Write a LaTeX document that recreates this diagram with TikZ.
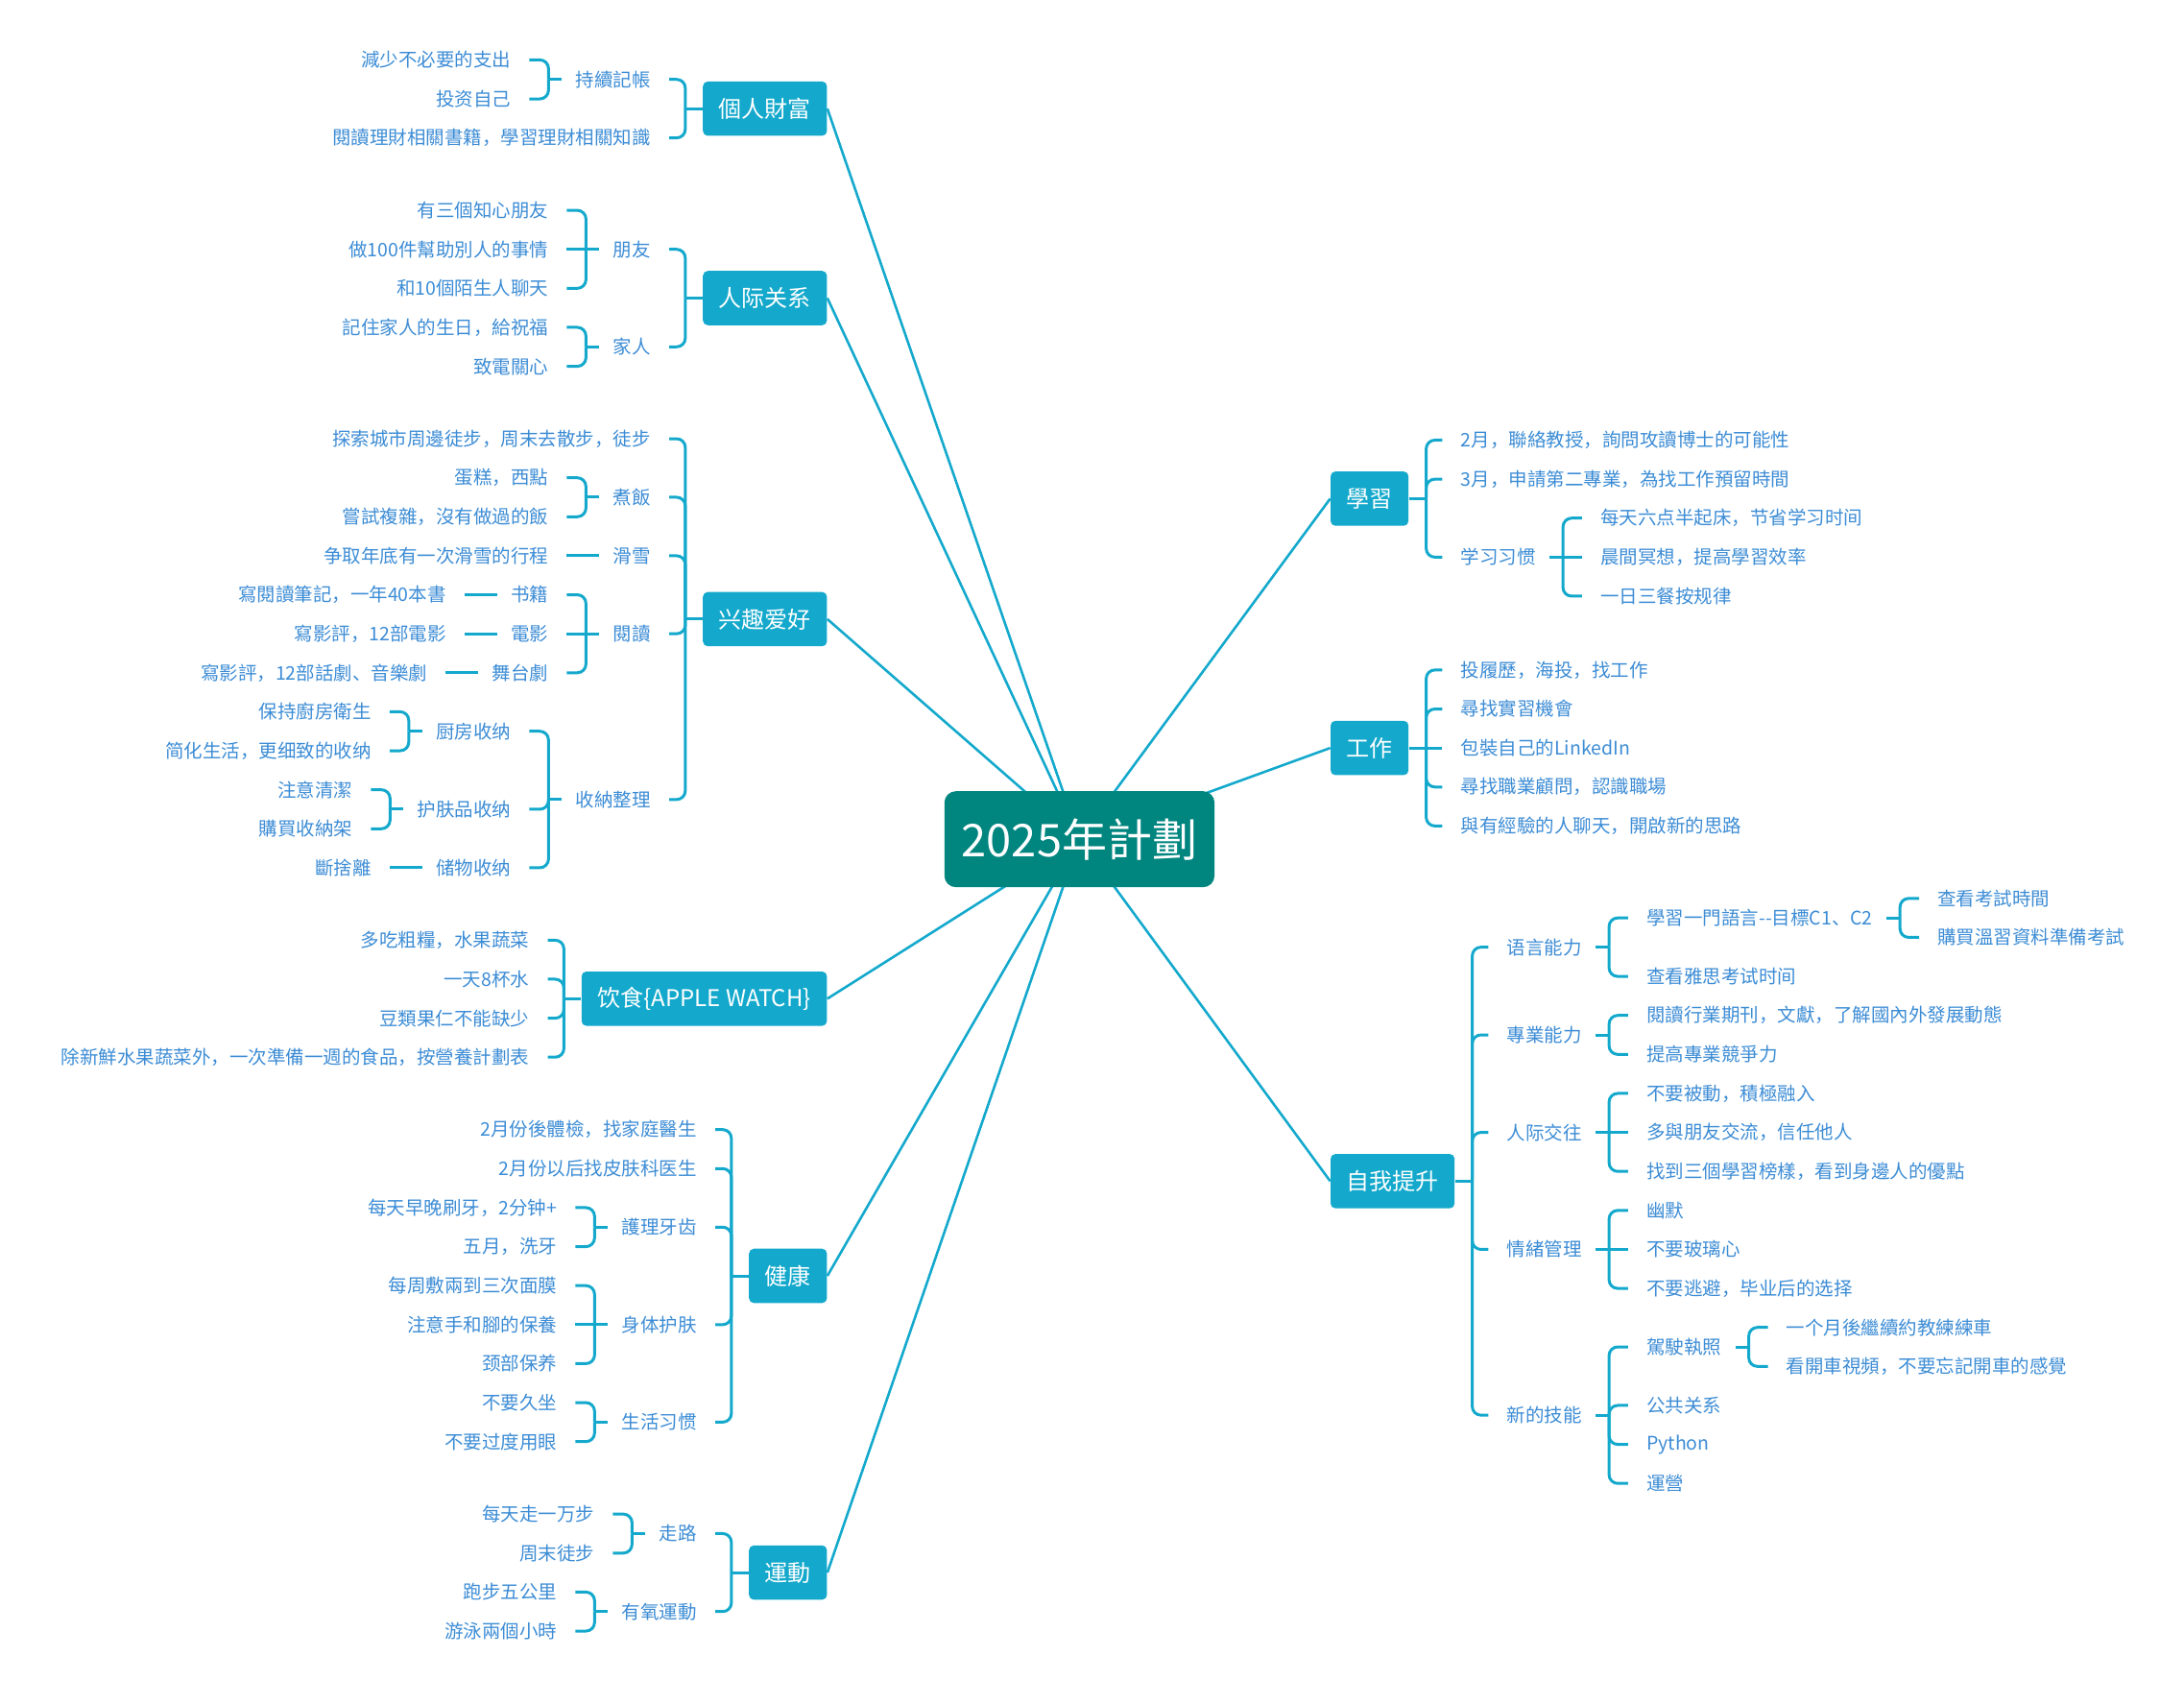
\documentclass[tikz,border=0pt]{standalone}
\usepackage{fontspec}
\setmainfont{Noto Sans CJK SC}
\usetikzlibrary{calc}
\definecolor{boxblue}{RGB}{20,169,204}
\definecolor{lnblue}{RGB}{20,169,204}
\definecolor{txtblue}{RGB}{60,140,213}
\definecolor{rootteal}{RGB}{0,133,127}
\pgfdeclarelayer{bg}
\pgfsetlayers{bg,main}
\tikzset{
  conn/.style={line width=1.5pt, draw=lnblue},
  mainconn/.style={line width=1.3pt, draw=lnblue},
  leaf/.style={inner sep=0pt, text=txtblue, font=\fontsize{9.75}{11}\selectfont},
  mainbox/.style={fill=boxblue, text=white, font=\fontsize{12}{14}\selectfont, minimum height=28.3pt, inner xsep=8.3pt, inner ysep=0pt, rounded corners=2.5pt},
  rootbox/.style={fill=rootteal, text=white, font=\fontsize{23.5}{26}\selectfont, minimum width=140.7pt, minimum height=50pt, rounded corners=6pt}
}
% left child: name, parent, offset, y, text
\newcommand\KL[5]{\coordinate (tmpy) at (0,#4); \path (#2.west) ++(-#3,0) coordinate (tmpk); \node[leaf,anchor=east] (#1) at (tmpk |- tmpy) {#5};}
\newcommand\KR[5]{\coordinate (tmpy) at (0,#4); \path (#2.east) ++(#3,0) coordinate (tmpk); \node[leaf,anchor=west] (#1) at (tmpk |- tmpy) {#5};}
% brackets: parent, stub start, bar, curved kids
\newcommand\BL[4]{\draw[conn] ($(#1.west)+(-#2,0)$) -- ($(#1.west)+(-#3,0)$) coordinate (barpt);
  \foreach \kid in {#4}{\draw[conn,rounded corners=4.5pt] (barpt) |- ($(\kid.east)+(13,0)$);}}
\newcommand\BR[4]{\draw[conn] ($(#1.east)+(#2,0)$) -- ($(#1.east)+(#3,0)$) coordinate (barpt);
  \foreach \kid in {#4}{\draw[conn,rounded corners=4.5pt] (barpt) |- ($(\kid.west)+(-13,0)$);}}
\newcommand\StL[2]{\draw[conn] ($(#1.west)+(-9.6,0)$) -- ($(#2.east)+(13,0)$);}
\newcommand\StR[2]{\draw[conn] ($(#1.east)+(9.6,0)$) -- ($(#2.west)+(-13,0)$);}

\begin{document}
\begin{tikzpicture}[x=0.72545pt,y=-0.72545pt]
\useasboundingbox (0,0) rectangle (1568,1223);

\node[rootbox] (root) at (775,602.5) {2025年計劃};

% ---------- 個人財富
\node[mainbox,anchor=east] (A) at (594,78) {個人財富};
\KL{A1}{A}{37}{57}{持續記帳}
\KL{A2}{A}{37}{99}{閱讀理財相關書籍，學習理財相關知識}
\KL{A11}{A1}{46}{43}{減少不必要的支出}
\KL{A12}{A1}{46}{71}{投资自己}
\BL{A}{0}{12.4}{A1,A2}
\BL{A1}{9.6}{19.3}{A11,A12}

% ---------- 人际关系
\node[mainbox,anchor=east] (B) at (594,214) {人际关系};
\KL{B1}{B}{37}{179}{朋友}
\KL{B2}{B}{37}{249}{家人}
\KL{B11}{B1}{46}{151}{有三個知心朋友}
\KL{B12}{B1}{46}{179}{做100件幫助別人的事情}
\KL{B13}{B1}{46}{207}{和10個陌生人聊天}
\KL{B21}{B2}{46}{235}{記住家人的生日，給祝福}
\KL{B22}{B2}{46}{263}{致電關心}
\BL{B}{0}{12.4}{B1,B2}
\BL{B1}{9.6}{19.3}{B11,B13}
\StL{B1}{B12}
\BL{B2}{9.6}{19.3}{B21,B22}

% ---------- 兴趣爱好
\node[mainbox,anchor=east] (C) at (594,444.5) {兴趣爱好};
\KL{C1}{C}{37}{315}{探索城市周邊徒步，周末去散步，徒步}
\KL{C2}{C}{37}{357}{煮飯}
\KL{C3}{C}{37}{399}{滑雪}
\KL{C4}{C}{37}{455}{閱讀}
\KL{C5}{C}{37}{574}{收納整理}
\KL{C21}{C2}{46}{343}{蛋糕，西點}
\KL{C22}{C2}{46}{371}{嘗試複雜，沒有做過的飯}
\KL{C31}{C3}{46}{399}{争取年底有一次滑雪的行程}
\KL{C41}{C4}{46}{427}{书籍}
\KL{C42}{C4}{46}{455}{電影}
\KL{C43}{C4}{46}{483}{舞台劇}
\KL{C411}{C41}{46}{427}{寫閱讀筆記，一年40本書}
\KL{C421}{C42}{46}{455}{寫影評，12部電影}
\KL{C431}{C43}{46}{483}{寫影評，12部話劇、音樂劇}
\KL{C51}{C5}{46}{525}{厨房收纳}
\KL{C52}{C5}{46}{581}{护肤品收纳}
\KL{C53}{C5}{46}{623}{储物收纳}
\KL{C511}{C51}{46}{511}{保持廚房衛生}
\KL{C512}{C51}{46}{539}{简化生活，更细致的收纳}
\KL{C521}{C52}{46}{567}{注意清潔}
\KL{C522}{C52}{46}{595}{購買收納架}
\KL{C531}{C53}{46}{623}{斷捨離}
\BL{C}{0}{12.4}{C1,C2,C3,C4,C5}
\BL{C2}{9.6}{19.3}{C21,C22}
\StL{C3}{C31}
\BL{C4}{9.6}{19.3}{C41,C43}
\StL{C4}{C42}
\StL{C41}{C411}
\StL{C42}{C421}
\StL{C43}{C431}
\BL{C5}{9.6}{19.3}{C51,C52,C53}
\BL{C51}{9.6}{19.3}{C511,C512}
\BL{C52}{9.6}{19.3}{C521,C522}
\StL{C53}{C531}

% ---------- 饮食
\node[mainbox,anchor=east] (D) at (594,717) {饮食\{APPLE WATCH\}};
\KL{D1}{D}{37}{675}{多吃粗糧，水果蔬菜}
\KL{D2}{D}{37}{703}{一天8杯水}
\KL{D3}{D}{37}{731}{豆類果仁不能缺少}
\KL{D4}{D}{37}{759}{除新鮮水果蔬菜外，一次準備一週的食品，按營養計劃表}
\BL{D}{0}{12.4}{D1,D2,D3,D4}

% ---------- 健康
\node[mainbox,anchor=east] (E) at (594,916) {健康};
\KL{E1}{E}{37}{811}{2月份後體檢，找家庭醫生}
\KL{E2}{E}{37}{839}{2月份以后找皮肤科医生}
\KL{E3}{E}{37}{881}{護理牙齿}
\KL{E4}{E}{37}{951}{身体护肤}
\KL{E5}{E}{37}{1021}{生活习惯}
\KL{E31}{E3}{46}{867}{每天早晚刷牙，2分钟+}
\KL{E32}{E3}{46}{895}{五月，洗牙}
\KL{E41}{E4}{46}{923}{每周敷兩到三次面膜}
\KL{E42}{E4}{46}{951}{注意手和腳的保養}
\KL{E43}{E4}{46}{979}{颈部保养}
\KL{E51}{E5}{46}{1007}{不要久坐}
\KL{E52}{E5}{46}{1035}{不要过度用眼}
\BL{E}{0}{12.4}{E1,E2,E3,E4,E5}
\BL{E3}{9.6}{19.3}{E31,E32}
\BL{E4}{9.6}{19.3}{E41,E43}
\StL{E4}{E42}
\BL{E5}{9.6}{19.3}{E51,E52}

% ---------- 運動
\node[mainbox,anchor=east] (F) at (594,1129) {運動};
\KL{F1}{F}{37}{1101}{走路}
\KL{F2}{F}{37}{1157}{有氧運動}
\KL{F11}{F1}{46}{1087}{每天走一万步}
\KL{F12}{F1}{46}{1115}{周末徒步}
\KL{F21}{F2}{46}{1143}{跑步五公里}
\KL{F22}{F2}{46}{1171}{游泳兩個小時}
\BL{F}{0}{12.4}{F1,F2}
\BL{F1}{9.6}{19.3}{F11,F12}
\BL{F2}{9.6}{19.3}{F21,F22}

% ---------- 學習
\node[mainbox,anchor=west] (G) at (955,358) {學習};
\KR{G1}{G}{37}{316}{2月，聯絡教授，詢問攻讀博士的可能性}
\KR{G2}{G}{37}{344}{3月，申請第二專業，為找工作預留時間}
\KR{G3}{G}{37}{400}{学习习惯}
\KR{G31}{G3}{46}{372}{每天六点半起床，节省学习时间}
\KR{G32}{G3}{46}{400}{晨間冥想，提高學習效率}
\KR{G33}{G3}{46}{428}{一日三餐按规律}
\BR{G}{0}{12.4}{G1,G2,G3}
\BR{G3}{9.6}{19.3}{G31,G33}
\StR{G3}{G32}

% ---------- 工作
\node[mainbox,anchor=west] (H) at (955,537) {工作};
\KR{H1}{H}{37}{481}{投履歷，海投，找工作}
\KR{H2}{H}{37}{509}{尋找實習機會}
\KR{H3}{H}{37}{537}{包裝自己的LinkedIn}
\KR{H4}{H}{37}{565}{尋找職業顧問，認識職場}
\KR{H5}{H}{37}{593}{與有經驗的人聊天，開啟新的思路}
\BR{H}{0}{12.4}{H1,H2,H4,H5}
\StR{H}{H3}

% ---------- 自我提升
\node[mainbox,anchor=west] (I) at (955,848) {自我提升};
\KR{I1}{I}{37}{680}{语言能力}
\KR{I2}{I}{37}{743}{專業能力}
\KR{I3}{I}{37}{813}{人际交往}
\KR{I4}{I}{37}{897}{情緒管理}
\KR{I5}{I}{37}{1016}{新的技能}
\KR{I11}{I1}{46}{659}{學習一門語言-{}-目標C1、C2}
\KR{I12}{I1}{46}{701}{查看雅思考试时间}
\KR{I111}{I11}{46}{645}{查看考試時間}
\KR{I112}{I11}{46}{673}{購買溫習資料準備考試}
\KR{I21}{I2}{46}{729}{閱讀行業期刊，文獻，了解國內外發展動態}
\KR{I22}{I2}{46}{757}{提高專業競爭力}
\KR{I31}{I3}{46}{785}{不要被動，積極融入}
\KR{I32}{I3}{46}{813}{多與朋友交流，信任他人}
\KR{I33}{I3}{46}{841}{找到三個學習榜樣，看到身邊人的優點}
\KR{I41}{I4}{46}{869}{幽默}
\KR{I42}{I4}{46}{897}{不要玻璃心}
\KR{I43}{I4}{46}{925}{不要逃避，毕业后的选择}
\KR{I51}{I5}{46}{967}{駕駛執照}
\KR{I52}{I5}{46}{1009}{公共关系}
\KR{I53}{I5}{46}{1037}{Python}
\KR{I54}{I5}{46}{1065}{運營}
\KR{I511}{I51}{46}{953}{一个月後繼續約教練練車}
\KR{I512}{I51}{46}{981}{看開車視頻，不要忘記開車的感覺}
\BR{I}{0}{12.4}{I1,I2,I3,I4,I5}
\BR{I1}{9.6}{19.3}{I11,I12}
\BR{I11}{9.6}{19.3}{I111,I112}
\BR{I2}{9.6}{19.3}{I21,I22}
\BR{I3}{9.6}{19.3}{I31,I33}
\StR{I3}{I32}
\BR{I4}{9.6}{19.3}{I41,I43}
\StR{I4}{I42}
\BR{I5}{9.6}{19.3}{I51,I52,I53,I54}
\BR{I51}{9.6}{19.3}{I511,I512}

% ---------- main connectors
\begin{pgfonlayer}{bg}
\foreach \b in {A,B,C,D,E,F} \draw[mainconn] (root.center) -- (\b.east);
\foreach \b in {G,H,I} \draw[mainconn] (root.center) -- (\b.west);
\end{pgfonlayer}
\end{tikzpicture}
\end{document}
